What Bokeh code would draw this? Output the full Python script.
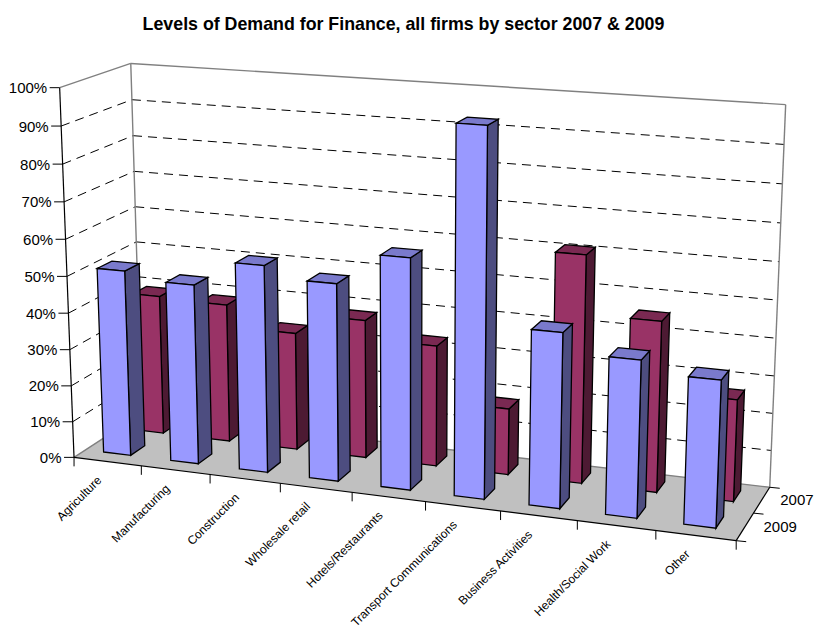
import numpy as np
from bokeh.plotting import figure
from bokeh.models import Range1d
from bokeh.core.properties import value
from bokeh.embed import file_html
from bokeh.resources import INLINE

categories = ["Agriculture", "Manufacturing", "Construction", "Wholesale retail",
              "Hotels/Restaurants", "Transport Communications", "Business Activities",
              "Health/Social Work", "Other"]
series_2009 = [51, 49, 56, 53, 61.5, 96.5, 46, 41, 38]
series_2007 = [39, 38.5, 32.5, 38, 33, 18, 61, 45.5, 27]
years = ["2009", "2007"]
value_ticks = [0, 10, 20, 30, 40, 50, 60, 70, 80, 90, 100]
title = "Levels of Demand for Finance, all firms by sector 2007 & 2009"

# --- camera: (u along categories, v depth, w height) -> page pixels, fitted from the frame
frame = [
    ((0, 0, 0), (73.3, 456.7)), ((1, 0, 0), (736, 540)), ((1, 1, 0), (769.3, 486.7)),
    ((0, 1, 0), (140.5, 413)), ((0, 0, 1), (58.7, 87.3)), ((1, 1, 1), (785.3, 104)),
    ((0, 1, 1), (129.3, 62.7)), ((0, 0, .5), (67, 276)),
    ((1 / 9, 0, 0), (141, 465)), ((2 / 9, 0, 0), (209.7, 474)), ((3 / 9, 0, 0), (279.7, 483)),
    ((4 / 9, 0, 0), (351.7, 492)), ((5 / 9, 0, 0), (425, 501)), ((6 / 9, 0, 0), (500, 511)),
    ((7 / 9, 0, 0), (576.7, 520)), ((8 / 9, 0, 0), (655.3, 530)),
    ((1, 1, .9), (783.3, 144)), ((1, 1, .8), (782, 183.3)), ((1, 1, .7), (780, 222.7)),
    ((0, 1, .9), (132, 99.3)), ((0, 1, .8), (133, 135)), ((0, 1, .7), (133.7, 171)),
    ((0, 1, .6), (135, 206)), ((0, 1, .5), (136, 241.7)),
]
M, b = [], []
for (u, v, w), (x, y) in frame:
    M.append([u, v, w, 1, 0, 0, 0, 0, -x * u, -x * v, -x * w]); b.append(x)
    M.append([0, 0, 0, 0, u, v, w, 1, -y * u, -y * v, -y * w]); b.append(y)
sol = np.linalg.lstsq(np.array(M, float), np.array(b, float), rcond=None)[0]
P = np.append(sol, 1).reshape(3, 4)


def pr(u, v, w):
    q = P @ np.array([u, v, w, 1.0])
    return float(q[0] / q[2]), float(q[1] / q[2])


p = figure(width=814, height=631, output_backend="svg", toolbar_location=None,
           x_range=Range1d(0, 814), y_range=Range1d(631, 0), min_border=0,
           x_axis_type=None, y_axis_type=None, outline_line_color=None)
p.grid.visible = False
p.background_fill_color = "white"


def quads(corners, fill, line="black", lw=1.3):
    xs, ys = [], []
    for c in corners:
        pts = [pr(*k) for k in c]
        xs.append([a for a, _ in pts]); ys.append([a for _, a in pts])
    p.patches(xs, ys, fill_color=fill, line_color=line, line_width=lw, line_join="miter")


def seg(x0, y0, x1, y1, color="black", lw=1.0, dash="solid"):
    p.segment(x0, y0, x1, y1, line_color=color, line_width=lw, line_dash=dash)


# floor
quads([[(0, 0, 0), (1, 0, 0), (1, 1, 0), (0, 1, 0)]], "#C0C0C0", None, 0)

# gridlines
gx0, gy0, gx1, gy1 = [], [], [], []
for t in value_ticks[1:-1]:
    w = t / 100
    a, c, d = pr(0, 0, w), pr(0, 1, w), pr(1, 1, w)
    gx0 += [a[0], c[0]]; gy0 += [a[1], c[1]]; gx1 += [c[0], d[0]]; gy1 += [c[1], d[1]]
seg(gx0, gy0, gx1, gy1, "black", 1.0, "9 6")

# wall edges
edges = [((0, 0, 1), (0, 1, 1)), ((0, 1, 1), (1, 1, 1)), ((0, 1, 1), (0, 1, 0)), ((1, 1, 1), (1, 1, 0)),
         ((0, 0, 0), (0, 1, 0)), ((0, 1, 0), (1, 1, 0))]
seg([pr(*e[0])[0] for e in edges], [pr(*e[0])[1] for e in edges],
    [pr(*e[1])[0] for e in edges], [pr(*e[1])[1] for e in edges], "#808080", 1.4)

# bars
n = len(categories)
U0, U1 = 0.27, 0.675


def bars(vals, v0, v1, front, top, side):
    f, t, s = [], [], []
    for i, val in enumerate(vals):
        u0, u1, h = (i + U0) / n, (i + U1) / n, val / 100
        f.append([(u0, v0, 0), (u1, v0, 0), (u1, v0, h), (u0, v0, h)])
        t.append([(u0, v0, h), (u1, v0, h), (u1, v1, h), (u0, v1, h)])
        s.append([(u1, v0, 0), (u1, v1, 0), (u1, v1, h), (u1, v0, h)])
    quads(s, side); quads(t, top); quads(f, front)


bars(series_2007, 0.66, 0.87, "#993366", "#7A2952", "#4D1A33")
bars(series_2009, 0.165, 0.375, "#9999FF", "#7A7ACC", "#4D4D80")

# axes
a0, a1 = pr(0, 0, 0), pr(0, 0, 1)
seg(a0[0], a0[1], a1[0], a1[1], "black", 1.2)
f1 = pr(1, 0, 0)
seg(a0[0], a0[1], f1[0], f1[1], "black", 1.2)
r0 = pr(1, 1, 0)
seg(f1[0], f1[1], r0[0], r0[1], "black", 1.2)

# value axis
tx, ty = [], []
for t in value_ticks:
    tx.append(pr(0, 0, t / 100)[0]); ty.append(pr(0, 0, t / 100)[1])
seg([x - 10 for x in tx], ty, tx, ty, "black", 1.0)
p.text([x - 12.5 for x in tx], ty, text=[f"{t}%" for t in value_ticks],
       text_font=value("Liberation Sans"), text_font_size="15px",
       text_align="right", text_baseline="middle", text_color="black")

# category axis
cx, cy = [], []
for i in range(n + 1):
    q = pr(i / n, 0, 0); cx.append(q[0]); cy.append(q[1])
seg(cx, cy, cx, [y + 9 for y in cy], "black", 1.0)
lx, ly = [], []
for i in range(n):
    q = pr((i + .5) / n, 0, 0); lx.append(q[0] - 8); ly.append(q[1] + 16.5)
p.text(lx, ly, text=categories, angle=np.pi / 4, text_font=value("Liberation Sans"),
       text_font_size="12px", text_align="right", text_baseline="middle", text_color="black")

# depth axis
dq = [pr(1, d, 0) for d in (0, .5, 1)]
seg([q[0] for q in dq], [q[1] for q in dq], [q[0] + 10 for q in dq], [q[1] + 1 for q in dq], "black", 1.0)
yq = [pr(1, d, 0) for d in (.25, .75)]
p.text([q[0] + 18.5 for q in yq], [q[1] + 0 for q in yq], text=years, text_font=value("Liberation Sans"),
       text_font_size="15px", text_align="left", text_baseline="middle", text_color="black")

# title
p.text([403], [23], text=[title], text_font=value("Liberation Sans"), text_font_style="bold",
       text_font_size="17.8px", text_align="center", text_baseline="middle", text_color="black")

open("out.html", "w").write(file_html(p, INLINE))
